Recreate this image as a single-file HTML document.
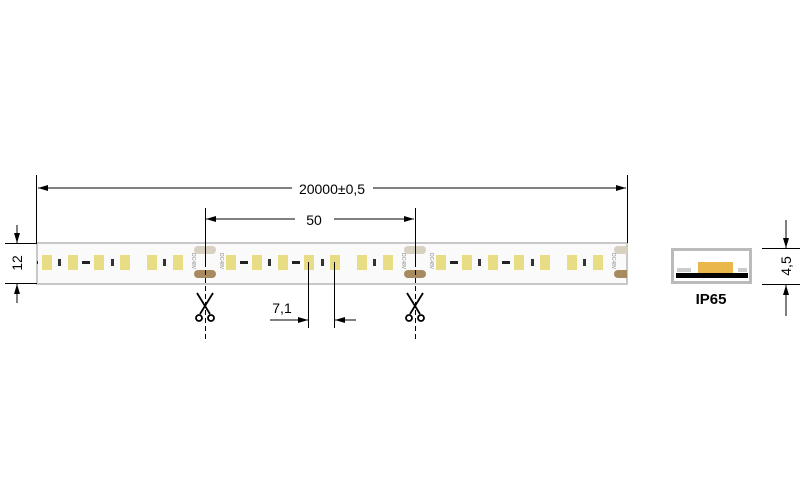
<!DOCTYPE html>
<html><head><meta charset="utf-8"><style>body{margin:0;background:#fff}svg{display:block}</style></head><body>
<svg width="808" height="500" viewBox="0 0 808 500" xmlns="http://www.w3.org/2000/svg" font-family="Liberation Sans, sans-serif">
<defs>
<marker id="a" viewBox="0 0 10 6" refX="10" refY="3" markerWidth="10" markerHeight="6" orient="auto" markerUnits="userSpaceOnUse"><path d="M0,0L10,3L0,6z" fill="#000"/></marker>
<g id="seg">
  <rect x="21" y="255" width="10" height="15" fill="#e8dc84"/>
  <rect x="47" y="255" width="10" height="15" fill="#e8dc84"/>
  <rect x="73" y="255" width="10" height="15" fill="#e8dc84"/>
  <rect x="99" y="255" width="10" height="15" fill="#e8dc84"/>
  <rect x="125" y="255" width="10" height="15" fill="#e8dc84"/>
  <rect x="152" y="255" width="10" height="15" fill="#e8dc84"/>
  <rect x="178" y="255" width="10" height="15" fill="#e8dc84"/>
  <rect x="35" y="261" width="8" height="3" fill="#222"/>
  <rect x="63" y="259" width="3" height="7" fill="#333"/>
  <rect x="87" y="261" width="8" height="3" fill="#222"/>
  <rect x="116" y="259" width="3" height="7" fill="#333"/>
  <rect x="168" y="259" width="3" height="7" fill="#333"/>
  <rect x="-11" y="246" width="22" height="8" rx="4" fill="#d8d0c0"/>
  <rect x="-11" y="270" width="22" height="8" rx="4" fill="#a88a60"/>
  <text x="0" y="0" font-size="5" fill="#888" transform="translate(-13,253) rotate(90)">DC48V</text>
  <text x="0" y="0" font-size="5" fill="#888" transform="translate(15,253) rotate(90)">DC48V</text>
</g>
<clipPath id="c"><rect x="37" y="243" width="590" height="41"/></clipPath>
</defs>
<rect x="37" y="243" width="590" height="41" fill="#fafafa" stroke="#c8c8c8" stroke-width="2"/>
<g clip-path="url(#c)">
<use href="#seg" x="-5"/><use href="#seg" x="205"/><use href="#seg" x="415"/><use href="#seg" x="625"/>
</g>
<g stroke="#000" stroke-width="1" fill="none">
<line x1="36.5" y1="175" x2="36.5" y2="243"/>
<line x1="627.5" y1="175" x2="627.5" y2="243"/>
<line x1="292" y1="188" x2="38" y2="188" marker-end="url(#a)"/>
<line x1="373" y1="188" x2="626" y2="188" marker-end="url(#a)"/>
<line x1="205.5" y1="208" x2="205.5" y2="262"/>
<line x1="415.5" y1="208" x2="415.5" y2="262"/>
<line x1="205.5" y1="262" x2="205.5" y2="342" stroke-dasharray="5,3"/>
<line x1="415.5" y1="262" x2="415.5" y2="342" stroke-dasharray="5,3"/>
<line x1="295" y1="219" x2="206" y2="219" marker-end="url(#a)"/>
<line x1="334" y1="219" x2="414" y2="219" marker-end="url(#a)"/>
<line x1="308.5" y1="262" x2="308.5" y2="328"/>
<line x1="334.5" y1="262" x2="334.5" y2="328"/>
<line x1="270" y1="320" x2="308" y2="320" marker-end="url(#a)"/>
<line x1="356" y1="320" x2="335" y2="320" marker-end="url(#a)"/>
<line x1="5" y1="243.5" x2="37" y2="243.5"/>
<line x1="5" y1="283.5" x2="37" y2="283.5"/>
<line x1="17" y1="225" x2="17" y2="243" marker-end="url(#a)"/>
<line x1="17" y1="303" x2="17" y2="284" marker-end="url(#a)"/>
<line x1="762" y1="248.5" x2="800" y2="248.5"/>
<line x1="762" y1="284.5" x2="800" y2="284.5"/>
<line x1="786" y1="220" x2="786" y2="248" marker-end="url(#a)"/>
<line x1="786" y1="316" x2="786" y2="285" marker-end="url(#a)"/>
</g>
<g id="sc" stroke="#000" stroke-width="1.8" fill="none">
<line x1="197" y1="293" x2="210" y2="314"/>
<line x1="213" y1="293" x2="200" y2="314"/>
<circle cx="199" cy="318" r="3"/>
<circle cx="211" cy="318" r="3"/>
</g>
<use href="#sc" x="210"/>
<text x="332" y="194" font-size="14" text-anchor="middle">20000±0,5</text>
<text x="314" y="225" font-size="14" text-anchor="middle">50</text>
<text x="282" y="313" font-size="14" text-anchor="middle">7,1</text>
<text x="0" y="0" font-size="14" text-anchor="middle" transform="translate(22,263) rotate(-90)">12</text>
<text x="0" y="0" font-size="14" text-anchor="middle" transform="translate(791,266) rotate(-90)">4,5</text>
<rect x="672.5" y="249.5" width="78" height="33" fill="#fff" stroke="#bbb" stroke-width="3"/>
<rect x="677" y="268" width="14" height="4" fill="#ccc"/>
<rect x="738" y="268" width="9" height="4" fill="#ccc"/>
<rect x="698" y="262" width="35" height="11" fill="#eab84a"/>
<rect x="676" y="273" width="72" height="5" fill="#000"/>
<text x="711" y="304" font-size="15" font-weight="bold" text-anchor="middle">IP65</text>
</svg>
</body></html>
